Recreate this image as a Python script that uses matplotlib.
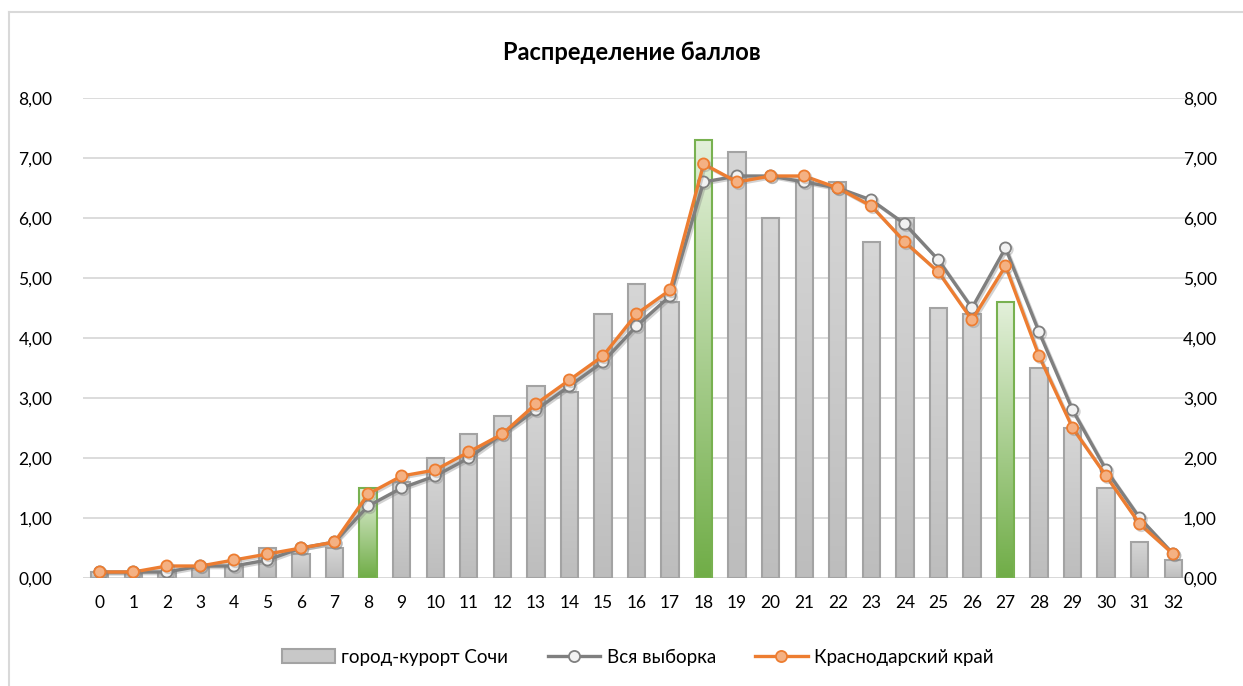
import numpy as np
import matplotlib
matplotlib.use("Agg")
import matplotlib.pyplot as plt
from matplotlib.colors import LinearSegmentedColormap
from matplotlib.lines import Line2D
from matplotlib.patches import Rectangle
import matplotlib.patheffects as pe

plt.rcParams['font.family'] = ['Lato', 'Open Sans', 'DejaVu Sans']

categories = [str(i) for i in range(33)]
sochi = [0.1, 0.1, 0.1, 0.2, 0.2, 0.5, 0.4, 0.5, 1.5, 1.6, 2.0, 2.4, 2.7, 3.2, 3.1, 4.4, 4.9,
         4.6, 7.3, 7.1, 6.0, 6.6, 6.6, 5.6, 6.0, 4.5, 4.4, 4.6, 3.5, 2.5, 1.5, 0.6, 0.3]
vsya = [0.1, 0.1, 0.1, 0.2, 0.2, 0.3, 0.5, 0.6, 1.2, 1.5, 1.7, 2.0, 2.4, 2.8, 3.2, 3.6, 4.2,
        4.7, 6.6, 6.7, 6.7, 6.6, 6.5, 6.3, 5.9, 5.3, 4.5, 5.5, 4.1, 2.8, 1.8, 1.0, 0.4]
krai = [0.1, 0.1, 0.2, 0.2, 0.3, 0.4, 0.5, 0.6, 1.4, 1.7, 1.8, 2.1, 2.4, 2.9, 3.3, 3.7, 4.4,
        4.8, 6.9, 6.6, 6.7, 6.7, 6.5, 6.2, 5.6, 5.1, 4.3, 5.2, 3.7, 2.5, 1.7, 0.9, 0.4]
highlight = ['8', '18', '27']
yticks = [0, 1, 2, 3, 4, 5, 6, 7, 8]
ytick_labels = ['0,00', '1,00', '2,00', '3,00', '4,00', '5,00', '6,00', '7,00', '8,00']

title = 'Распределение баллов'
labels = ['город-курорт Сочи', 'Вся выборка', 'Краснодарский край']

W, H = 1243, 686
fig = plt.figure(figsize=(W / 100, H / 100), dpi=100)
ax = fig.add_axes([83 / W, 1 - 578 / H, (1190 - 83) / W, (578 - 98) / H])

x = np.arange(len(categories))
gray_cmap = LinearSegmentedColormap.from_list('g', ['#BDBDBD', '#D6D6D6'])
green_cmap = LinearSegmentedColormap.from_list('gr', ['#70AD47', '#E3F0DA'])
grad = np.linspace(0, 1, 256).reshape(-1, 1)

bars = ax.bar(x, sochi, width=0.52, color='#C8C8C8', edgecolor='none', zorder=2)
for cat, b in zip(categories, bars):
    hl = cat in highlight
    cm = green_cmap if hl else gray_cmap
    im = ax.imshow(grad, extent=[b.get_x(), b.get_x() + b.get_width(), 0, b.get_height()],
                   origin='lower', aspect='auto', cmap=cm, zorder=2.1)
    im.set_clip_path(b)
    ax.add_patch(Rectangle((b.get_x(), 0), b.get_width(), b.get_height(), fill=False,
                           edgecolor='#78B150' if hl else '#A3A3A3', lw=1.5, zorder=2.2))

shadow = [pe.SimpleLineShadow(offset=(1.2, -1.2), shadow_color='#808080', alpha=0.35), pe.Normal()]
ax.plot(x, vsya, color='#7F7F7F', lw=2.4, marker='o', ms=8, mfc='#F2F2F2', mec='#7F7F7F',
        mew=1.3, zorder=3, path_effects=shadow)
ax.plot(x, krai, color='#ED7D31', lw=2.4, marker='o', ms=8, mfc='#F4B183', mec='#ED7D31',
        mew=1.3, zorder=4, path_effects=shadow)

ax.set_xlim(-0.5, len(categories) - 0.5)
ax.set_ylim(0, 8)
ax.set_yticks(yticks)
ax.set_yticklabels(ytick_labels)
ax.set_xticks(x)
ax.set_xticklabels(categories)
ax.tick_params(axis='both', length=0, labelsize=12.5, colors='#000000')
ax.tick_params(axis='y', pad=22)
ax.tick_params(axis='x', pad=12)
ax.grid(axis='y', color='#D9D9D9', lw=1.3, zorder=0)
ax.set_axisbelow(True)
for s in ax.spines.values():
    s.set_visible(False)
ax.axhline(0, color='#D9D9D9', lw=1.3, zorder=1)

ax2 = ax.twinx()
ax2.set_ylim(0, 8)
ax2.set_yticks(yticks)
ax2.set_yticklabels(ytick_labels)
ax2.tick_params(axis='y', length=0, labelsize=12.5, pad=-5)
for s in ax2.spines.values():
    s.set_visible(False)

fig.text(632 / W, 1 - 52 / H, title, ha='center', va='center', fontsize=17, fontweight='bold')

handles = [Rectangle((0, 0), 1, 1, facecolor='#C8C8C8', edgecolor='#A3A3A3', lw=1.5),
           Line2D([], [], color='#7F7F7F', lw=2.4, marker='o', ms=8, mfc='#F2F2F2', mec='#7F7F7F', mew=1.3),
           Line2D([], [], color='#ED7D31', lw=2.4, marker='o', ms=8, mfc='#F4B183', mec='#ED7D31', mew=1.3)]
fig.legend(handles, labels, loc='center', bbox_to_anchor=(638 / W, 1 - 657 / H), ncol=3,
           frameon=False, fontsize=13.5, handlelength=2.8, handleheight=0.8, columnspacing=2.1,
           handletextpad=0.35)

fig.add_artist(Line2D([9 / W, 9 / W], [0, 1 - 12 / H], color='#D9D9D9', lw=1.5, transform=fig.transFigure))
fig.add_artist(Line2D([9 / W, 1], [1 - 12 / H, 1 - 12 / H], color='#D9D9D9', lw=1.5, transform=fig.transFigure))

fig.savefig('out.png', dpi=100)
